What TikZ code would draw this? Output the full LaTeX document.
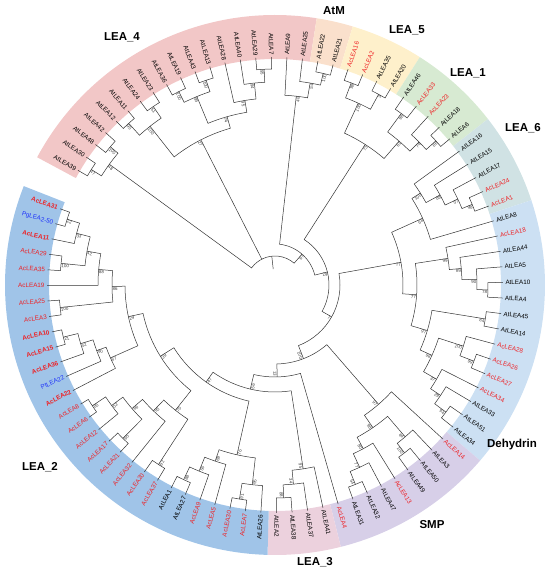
\documentclass[tikz,border=0pt]{standalone}
\usepackage{fontspec}
\setmainfont{Liberation Sans}
\definecolor{acred}{RGB}{238,32,36}
\definecolor{acblue}{RGB}{30,50,250}
\definecolor{bandLfour}{RGB}{242,199,199}
\definecolor{bandAtM}{RGB}{250,224,204}
\definecolor{bandLfive}{RGB}{254,240,203}
\definecolor{bandLone}{RGB}{215,234,210}
\definecolor{bandLsix}{RGB}{208,226,228}
\definecolor{bandDhn}{RGB}{204,224,243}
\definecolor{bandSMP}{RGB}{215,207,232}
\definecolor{bandLthree}{RGB}{236,209,221}
\definecolor{bandLtwo}{RGB}{160,196,232}

\tikzset{
  branch/.style={line width=0.5pt,black!80},
  leafname/.style={font=\fontsize{6.3}{7}\selectfont,inner sep=0.3pt},
  boot/.style={font=\fontsize{4.5}{5}\selectfont,text=black!75,inner sep=0.4pt},
  cladename/.style={font=\bfseries\fontsize{11.5}{13}\selectfont}
}

% leaf: index, name, text, colour
\newcommand\leaf[4]{%
  \pgfmathsetmacro\angL{149.8-3.925*#1}%
  \expandafter\xdef\csname ang@#2\endcsname{\angL}%
  \coordinate (#2) at (\angL:228pt);
  \pgfmathtruncatemacro\onleft{(\angL>90)||(\angL<-90)}%
  \ifnum\onleft=1
    \pgfmathsetmacro\angT{\angL+180}%
    \node[leafname,text=#4,rotate=\angT,anchor=east] (l#2) at (\angL:230pt) {#3};
  \else
    \node[leafname,text=#4,rotate=\angL,anchor=west] (l#2) at (\angL:230pt) {#3};
  \fi
}
\newcommand\At[2]{\leaf{#1}{At#2}{AtLEA#2}{black}}
\newcommand\Ac[2]{\leaf{#1}{Ac#2}{AcLEA#2}{acred}}
\newcommand\AcB[2]{\leaf{#1}{Ac#2}{\textbf{AcLEA#2}}{acred}}

% clade: name, radius, first child, last child, bootstrap
\newcommand\clade[5]{%
  \pgfmathsetmacro\angA{\csname ang@#3\endcsname}%
  \pgfmathsetmacro\angB{\csname ang@#4\endcsname}%
  \pgfmathsetmacro\angM{(\angA+\angB)/2}%
  \expandafter\xdef\csname ang@#1\endcsname{\angM}%
  \coordinate (#1) at (\angM:#2pt);
  \draw[branch] (#3) -- (\angA:#2pt) arc[start angle=\angA,end angle=\angB,radius=#2pt] -- (#4);
  \def\bsval{#5}%
  \ifx\bsval\empty\else
    \pgfmathtruncatemacro\onleft{(\angM>90)||(\angM<-90)}%
    \ifnum\onleft=1
      \pgfmathsetmacro\angT{\angM+180}%
      \node[boot,rotate=\angT,anchor=north west] (b#1) at (#1) {#5};
    \else
      \node[boot,rotate=\angM,anchor=north east] (b#1) at (#1) {#5};
    \fi
  \fi
}

% coloured ring: colour, from index, to index
\newcommand\band[3]{%
  \pgfmathsetmacro\angA{149.8-3.925*(#2)}%
  \pgfmathsetmacro\angB{149.8-3.925*(#3)}%
  \fill[#1] (\angA:226pt) arc[start angle=\angA,end angle=\angB,radius=226pt]
    -- (\angB:270pt) arc[start angle=\angB,end angle=\angA,radius=270pt] -- cycle;
}

\begin{document}
\begin{tikzpicture}
  \useasboundingbox (-275pt,-286pt) rectangle (275pt,285pt);
  % coloured groups
  \band{bandLfour}{-0.5}{17.5}
  \band{bandAtM}{17.5}{19.5}
  \band{bandLfive}{19.5}{23.5}
  \band{bandLone}{23.5}{28.5}
  \band{bandLsix}{28.5}{33.5}
  \band{bandDhn}{33.5}{48.5}
  \band{bandSMP}{48.5}{57.5}
  \band{bandLthree}{57.5}{61.5}
  \band{bandLtwo}{61.5}{89.5}
  % leaves
  \At{0}{39}
  \At{1}{30}
  \At{2}{48}
  \At{3}{42}
  \At{4}{12}
  \At{5}{11}
  \At{6}{24}
  \At{7}{23}
  \At{8}{36}
  \At{9}{19}
  \At{10}{43}
  \At{11}{13}
  \At{12}{28}
  \At{13}{40}
  \At{14}{29}
  \At{15}{7}
  \At{16}{9}
  \At{17}{25}
  \At{18}{22}
  \At{19}{21}
  \Ac{20}{16}
  \Ac{21}{2}
  \At{22}{35}
  \At{23}{20}
  \At{24}{46}
  \Ac{25}{33}
  \Ac{26}{23}
  \At{27}{18}
  \At{28}{6}
  \At{29}{16}
  \At{30}{15}
  \At{31}{17}
  \Ac{32}{24}
  \Ac{33}{1}
  \At{34}{8}
  \Ac{35}{18}
  \At{36}{44}
  \At{37}{5}
  \At{38}{10}
  \At{39}{4}
  \At{40}{45}
  \At{41}{14}
  \Ac{42}{28}
  \Ac{43}{26}
  \Ac{44}{27}
  \Ac{45}{34}
  \At{46}{33}
  \At{47}{51}
  \At{48}{34}
  \Ac{49}{14}
  \At{50}{3}
  \At{51}{50}
  \At{52}{49}
  \Ac{53}{13}
  \At{54}{47}
  \At{55}{32}
  \At{56}{31}
  \Ac{57}{4}
  \At{58}{41}
  \At{59}{37}
  \At{60}{38}
  \At{61}{2}
  \At{62}{26}
  \Ac{63}{7}
  \Ac{64}{30}
  \Ac{65}{5}
  \Ac{66}{9}
  \At{67}{27}
  \At{68}{1}
  \Ac{69}{37}
  \Ac{70}{20}
  \Ac{71}{32}
  \Ac{72}{21}
  \Ac{73}{17}
  \Ac{74}{12}
  \Ac{75}{6}
  \Ac{76}{8}
  \AcB{77}{22}
  \leaf{78}{Pt22}{PtLEA22}{acblue}
  \AcB{79}{36}
  \AcB{80}{15}
  \AcB{81}{10}
  \Ac{82}{3}
  \Ac{83}{25}
  \Ac{84}{19}
  \Ac{85}{35}
  \Ac{86}{29}
  \AcB{87}{11}
  \leaf{88}{Pg250}{PgLEA2-50}{acblue}
  \AcB{89}{31}
  % LEA_4
  \clade{c3930}{217}{At39}{At30}{47}
  \clade{c4842}{215}{At48}{At42}{100}
  \clade{cA}{205}{c3930}{c4842}{48}
  \clade{c1211}{218}{At12}{At11}{95}
  \clade{c2423}{216}{At24}{At23}{51}
  \clade{c4a}{202}{c1211}{c2423}{100}
  \clade{c3619}{216}{At36}{At19}{100}
  \clade{c4313}{216}{At43}{At13}{100}
  \clade{c4b}{204}{c3619}{c4313}{99}
  \clade{c297}{216}{At29}{At7}{95}
  \clade{c40}{203}{At40}{c297}{94}
  \clade{c28}{187}{At28}{c40}{95}
  \clade{c4c}{175}{c4b}{c28}{74}
  \clade{cL4}{163}{c4a}{c4c}{27}
  % AtM
  \clade{c2221}{217}{At22}{At21}{100}
  \clade{c25}{205}{At25}{c2221}{54}
  \clade{cM}{190}{At9}{c25}{48}
  % LEA_5 and LEA_1
  \clade{c162}{216}{Ac16}{Ac2}{98}
  \clade{c3520}{217}{At35}{At20}{3}
  \clade{cL5}{200}{c162}{c3520}{100}
  \clade{c4633}{213}{At46}{Ac33}{98}
  \clade{c186}{216}{At18}{At6}{86}
  \clade{c23}{203}{Ac23}{c186}{74}
  \clade{cL1}{190}{c4633}{c23}{61}
  \clade{c51}{167}{cL5}{cL1}{73}
  % LEA_6
  \clade{c241}{213}{Ac24}{Ac1}{98}
  \clade{c17}{202}{At17}{c241}{57}
  \clade{c15}{188}{At15}{c17}{88}
  \clade{cL6}{172}{At16}{c15}{100}
  \clade{c68}{162}{cL6}{At8}{68}
  % Dehydrin
  \clade{c104}{213}{At10}{At4}{78}
  \clade{c5}{202}{At5}{c104}{90}
  \clade{c44}{187}{At44}{c5}{89}
  \clade{c18}{175}{Ac18}{c44}{99}
  \clade{c4514}{213}{At45}{At14}{84}
  \clade{c2627}{213}{Ac26}{Ac27}{99}
  \clade{c28b}{198}{Ac28}{c2627}{100}
  \clade{c5134}{213}{At51}{At34}{94}
  \clade{c33}{199}{At33}{c5134}{29}
  \clade{c34}{187}{Ac34}{c33}{37}
  \clade{c98}{172}{c28b}{c34}{98}
  \clade{c97}{159}{c4514}{c98}{97}
  \clade{c77b}{142}{c18}{c97}{77}
  \clade{c77a}{128}{c68}{c77b}{77}
  % SMP
  \clade{c5049}{212}{At50}{At49}{100}
  \clade{c3}{200}{At3}{c5049}{64}
  \clade{c3231}{215}{At32}{At31}{54}
  \clade{c47}{201}{At47}{c3231}{77}
  \clade{c13}{186}{Ac13}{c47}{80}
  \clade{cS}{173}{c3}{c13}{98}
  \clade{cS97}{158}{Ac14}{cS}{97}
  % LEA_3
  \clade{c238}{213}{At38}{At2}{88}
  \clade{c37}{200}{At37}{c238}{34}
  \clade{cL3}{186}{At41}{c37}{95}
  % LEA_2
  \clade{c730}{217}{Ac7}{Ac30}{91}
  \clade{c26}{201}{At26}{c730}{95}
  \clade{c271}{215}{At27}{At1}{88}
  \clade{c9}{201}{Ac9}{c271}{56}
  \clade{c5b}{186}{Ac5}{c9}{69}
  \clade{c76}{174}{c26}{c5b}{76}
  \clade{c3720}{214}{Ac37}{Ac20}{82}
  \clade{c86}{219}{Ac6}{Ac8}{85}
  \clade{c12}{203}{Ac12}{c86}{52}
  \clade{c2117}{216}{Ac21}{Ac17}{65}
  \clade{c66}{189}{c2117}{c12}{66}
  \clade{c32}{175}{Ac32}{c66}{93}
  \clade{cMid}{160}{c3720}{c32}{70}
  \clade{c1510}{218}{Ac15}{Ac10}{21}
  \clade{c36}{203}{Ac36}{c1510}{52}
  \clade{cPt}{190}{Pt22}{c36}{90}
  \clade{c22}{180}{Ac22}{cPt}{67}
  \clade{c253}{216}{Ac3}{Ac25}{100}
  \clade{c3529}{215}{Ac35}{Ac29}{100}
  \clade{c3150}{218}{Pg250}{Ac31}{22}
  \clade{c11}{205}{Ac11}{c3150}{33}
  \clade{c42}{191}{c3529}{c11}{42}
  \clade{c19}{177}{Ac19}{c42}{88}
  \clade{c86u}{163}{c253}{c19}{86}
  \clade{cUp}{150}{c22}{c86u}{29}
  % backbone
  \clade{n39}{135}{cMid}{cUp}{39}
  \clade{n47}{119}{c76}{n39}{47}
  \clade{n56}{107}{cL3}{n47}{56}
  \clade{n13}{92}{Ac4}{n56}{13}
  \clade{n100}{79}{cS97}{n13}{100}
  \clade{n7}{65}{c77a}{n100}{7}
  \clade{n29}{54}{c51}{n7}{29}
  \clade{n67}{41}{cM}{n29}{67}
  \clade{root}{29}{cA}{n67}{}
  \pgfmathsetmacro\angR{\csname ang@cL4\endcsname}
  \draw[branch] (cL4) -- (\angR:29pt);
  \pgfmathsetmacro\angR{\csname ang@root\endcsname}
  \coordinate (stem) at (\angR:16pt);
  \draw[branch] (root) -- (stem);
  % group names
  \node[cladename] (tL4) at (-153pt,248pt) {LEA\_4};
  \node[cladename] (tAtM) at (59pt,274pt) {AtM};
  \node[cladename] (tL5) at (132pt,255pt) {LEA\_5};
  \node[cladename] (tL1) at (193pt,212pt) {LEA\_1};
  \node[cladename] (tL6) at (248pt,157pt) {LEA\_6};
  \node[cladename] (tDhn) at (237pt,-160pt) {Dehydrin};
  \node[cladename] (tSMP) at (157pt,-240pt) {SMP};
  \node[cladename] (tL3) at (40pt,-277pt) {LEA\_3};
  \node[cladename] (tL2) at (-235pt,-182pt) {LEA\_2};
\end{tikzpicture}
\end{document}
